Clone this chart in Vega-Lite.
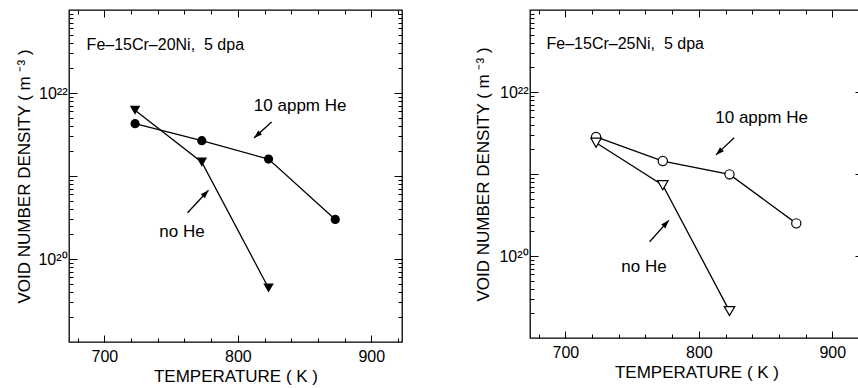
{
  "$schema": "https://vega.github.io/schema/vega-lite/v6.json",
  "background": "white",
  "padding": {"left": 15, "top": 8, "right": 0, "bottom": 0},
  "config": {
    "font": "Liberation Sans",
    "view": {"stroke": "black", "strokeWidth": 1.3},
    "axis": {
      "domain": false,
      "grid": false,
      "tickColor": "black",
      "tickWidth": 1,
      "labelColor": "black",
      "labelFontSize": 16,
      "labelOverlap": false,
      "labelFlush": false,
      "titleColor": "black",
      "titleFontSize": 17,
      "titleFontWeight": "normal"
    }
  },
  "spacing": 70,
  "hconcat": [
    {
      "width": 333,
      "height": 332,
      "layer": [
        {
          "data": {"values": [
            {"he": "10 appm He", "T": 723, "n": 4.27e21},
            {"he": "10 appm He", "T": 773, "n": 2.66e21},
            {"he": "10 appm He", "T": 823, "n": 1.6e21},
            {"he": "10 appm He", "T": 873, "n": 3.0e20},
            {"he": "no He", "T": 723, "n": 6.2e21},
            {"he": "no He", "T": 773, "n": 1.47e21},
            {"he": "no He", "T": 823, "n": 4.48e19}
          ]},
          "layer": [
            {
              "mark": {"type": "line", "color": "black", "strokeWidth": 1.3},
              "encoding": {
                "x": {"field": "T", "type": "quantitative", "scale": {"domain": [673.5, 923], "nice": false, "zero": false},
                  "axis": {"orient": "bottom", "title": "TEMPERATURE ( K )", "titlePadding": 4, "labelPadding": 6,
                    "offset": -7, "tickSize": 7, "values": [700, 800, 900]}},
                "y": {"field": "n", "type": "quantitative", "scale": {"type": "log", "domain": [1e19, 1e23], "nice": false},
                  "axis": {"orient": "left", "title": "VOID NUMBER DENSITY ( m ⁻³ )", "titlePadding": 4, "labelPadding": 2,
                    "offset": -8, "tickSize": 8, "values": [1e20, 1e21, 1e22],
                    "labelExpr": "abs(datum.value / 1e22 - 1) < 0.001 ? '10²²' : abs(datum.value / 1e20 - 1) < 0.001 ? '10²⁰' : ''"}},
                "detail": {"field": "he"}
              }
            },
            {
              "mark": {"type": "point", "filled": true, "color": "black", "opacity": 1},
              "encoding": {
                "x": {"field": "T", "type": "quantitative",
                  "axis": {"orient": "top", "title": null, "labels": false, "offset": -7, "tickSize": 7, "values": [700, 800, 900]}},
                "y": {"field": "n", "type": "quantitative",
                  "axis": {"orient": "right", "title": null, "labels": false, "offset": -8, "tickSize": 8, "values": [1e20, 1e21, 1e22]}},
                "shape": {"field": "he", "type": "nominal", "scale": {"domain": ["10 appm He", "no He"], "range": ["circle", "triangle-down"]}, "legend": null},
                "size": {"field": "he", "type": "nominal", "scale": {"domain": ["10 appm He", "no He"], "range": [85, 110]}, "legend": null}
              }
            }
          ]
        },
        {
          "data": {"values": [
            {"label": "10 appm He", "T": 825.3, "n": 4.48e21, "T2": 812.1, "n2": 2.87e21},
            {"label": "no He", "T": 762.3, "n": 3.61e20, "T2": 778, "n2": 6.73e20}
          ]},
          "layer": [
            {
              "mark": {"type": "rule", "color": "black", "strokeWidth": 1.3},
              "encoding": {
                "x": {"field": "T", "type": "quantitative",
                  "axis": {"orient": "bottom", "title": null, "labels": false, "offset": -4, "tickSize": 4,
                    "values": [680, 720, 740, 760, 780, 820, 840, 860, 880, 920]}},
                "y": {"field": "n", "type": "quantitative",
                  "axis": {"orient": "left", "title": null, "labels": false, "offset": -4, "tickSize": 4,
                    "values": [2e19, 3e19, 4e19, 5e19, 6e19, 7e19, 8e19, 9e19, 2e20, 3e20, 4e20, 5e20, 6e20, 7e20, 8e20, 9e20, 2e21, 3e21, 4e21, 5e21, 6e21, 7e21, 8e21, 9e21, 2e22, 3e22, 4e22, 5e22, 6e22, 7e22, 8e22, 9e22]}},
                "x2": {"field": "T2"},
                "y2": {"field": "n2"}
              }
            },
            {
              "mark": {"type": "point", "filled": true, "color": "black", "opacity": 1, "shape": "M0,0L0.9,2.6L-0.9,2.6Z", "size": 40},
              "encoding": {
                "x": {"field": "T2", "type": "quantitative",
                  "axis": {"orient": "top", "title": null, "labels": false, "offset": -4, "tickSize": 4,
                    "values": [680, 720, 740, 760, 780, 820, 840, 860, 880, 920]}},
                "y": {"field": "n2", "type": "quantitative",
                  "axis": {"orient": "right", "title": null, "labels": false, "offset": -4, "tickSize": 4,
                    "values": [2e19, 3e19, 4e19, 5e19, 6e19, 7e19, 8e19, 9e19, 2e20, 3e20, 4e20, 5e20, 6e20, 7e20, 8e20, 9e20, 2e21, 3e21, 4e21, 5e21, 6e21, 7e21, 8e21, 9e21, 2e22, 3e22, 4e22, 5e22, 6e22, 7e22, 8e22, 9e22]}},
                "angle": {"condition": {"test": "datum.label === 'no He'", "value": 43}, "value": 228}
              }
            }
          ]
        },
        {
          "data": {"values": [
            {"label": "Fe–15Cr–20Ni,\u00a0\u00a05 dpa", "T": 686.7, "n": 3.79e22},
            {"label": "10 appm He", "T": 812, "n": 6.97e21},
            {"label": "no He", "T": 741.2, "n": 2.11e20}
          ]},
          "mark": {"type": "text", "align": "left", "baseline": "middle", "color": "black"},
          "encoding": {
            "x": {"field": "T", "type": "quantitative", "axis": null},
            "y": {"field": "n", "type": "quantitative", "axis": null},
            "text": {"field": "label"},
            "size": {"condition": {"test": "indexof(datum.label, 'dpa') >= 0", "value": 16}, "value": 17}
          }
        }
      ],
      "resolve": {"axis": {"x": "independent", "y": "independent"}}
    },
    {
      "width": 333,
      "height": 328,
      "layer": [
        {
          "data": {"values": [
            {"he": "10 appm He", "T": 723, "n": 2.83e21},
            {"he": "10 appm He", "T": 773, "n": 1.44e21},
            {"he": "10 appm He", "T": 823, "n": 9.9e20},
            {"he": "10 appm He", "T": 873, "n": 2.5e20},
            {"he": "no He", "T": 723, "n": 2.41e21},
            {"he": "no He", "T": 773, "n": 7.3e20},
            {"he": "no He", "T": 823, "n": 2.13e19}
          ]},
          "layer": [
            {
              "mark": {"type": "line", "color": "black", "strokeWidth": 1.3},
              "encoding": {
                "x": {"field": "T", "type": "quantitative", "scale": {"domain": [673.5, 923], "nice": false, "zero": false},
                  "axis": {"orient": "bottom", "title": "TEMPERATURE ( K )", "titlePadding": 4, "labelPadding": 6,
                    "offset": -7, "tickSize": 7, "values": [700, 800, 900]}},
                "y": {"field": "n", "type": "quantitative", "scale": {"type": "log", "domain": [1e19, 1e23], "nice": false},
                  "axis": {"orient": "left", "title": "VOID NUMBER DENSITY ( m ⁻³ )", "titlePadding": 6, "labelPadding": 2,
                    "offset": -8, "tickSize": 8, "values": [1e20, 1e21, 1e22],
                    "labelExpr": "abs(datum.value / 1e22 - 1) < 0.001 ? '10²²' : abs(datum.value / 1e20 - 1) < 0.001 ? '10²⁰' : ''"}},
                "detail": {"field": "he"}
              }
            },
            {
              "mark": {"type": "point", "filled": true, "fill": "white", "stroke": "black", "strokeWidth": 1.2, "opacity": 1},
              "encoding": {
                "x": {"field": "T", "type": "quantitative",
                  "axis": {"orient": "top", "title": null, "labels": false, "offset": -7, "tickSize": 7, "values": [700, 800, 900]}},
                "y": {"field": "n", "type": "quantitative",
                  "axis": {"orient": "right", "title": null, "labels": false, "offset": -8, "tickSize": 8, "values": [1e20, 1e21, 1e22]}},
                "shape": {"field": "he", "type": "nominal", "scale": {"domain": ["10 appm He", "no He"], "range": ["circle", "triangle-down"]}, "legend": null},
                "size": {"field": "he", "type": "nominal", "scale": {"domain": ["10 appm He", "no He"], "range": [70, 90]}, "legend": null}
              }
            }
          ]
        },
        {
          "data": {"values": [
            {"label": "10 appm He", "T": 826.5, "n": 2.77e21, "T2": 812.8, "n2": 1.71e21},
            {"label": "no He", "T": 763.1, "n": 1.49e20, "T2": 777.5, "n2": 2.72e20}
          ]},
          "layer": [
            {
              "mark": {"type": "rule", "color": "black", "strokeWidth": 1.3},
              "encoding": {
                "x": {"field": "T", "type": "quantitative",
                  "axis": {"orient": "bottom", "title": null, "labels": false, "offset": -4, "tickSize": 4,
                    "values": [680, 720, 740, 760, 780, 820, 840, 860, 880, 920]}},
                "y": {"field": "n", "type": "quantitative",
                  "axis": {"orient": "left", "title": null, "labels": false, "offset": -4, "tickSize": 4,
                    "values": [2e19, 3e19, 4e19, 5e19, 6e19, 7e19, 8e19, 9e19, 2e20, 3e20, 4e20, 5e20, 6e20, 7e20, 8e20, 9e20, 2e21, 3e21, 4e21, 5e21, 6e21, 7e21, 8e21, 9e21, 2e22, 3e22, 4e22, 5e22, 6e22, 7e22, 8e22, 9e22]}},
                "x2": {"field": "T2"},
                "y2": {"field": "n2"}
              }
            },
            {
              "mark": {"type": "point", "filled": true, "color": "black", "opacity": 1, "shape": "M0,0L0.9,2.6L-0.9,2.6Z", "size": 40},
              "encoding": {
                "x": {"field": "T2", "type": "quantitative",
                  "axis": {"orient": "top", "title": null, "labels": false, "offset": -4, "tickSize": 4,
                    "values": [680, 720, 740, 760, 780, 820, 840, 860, 880, 920]}},
                "y": {"field": "n2", "type": "quantitative",
                  "axis": {"orient": "right", "title": null, "labels": false, "offset": -4, "tickSize": 4,
                    "values": [2e19, 3e19, 4e19, 5e19, 6e19, 7e19, 8e19, 9e19, 2e20, 3e20, 4e20, 5e20, 6e20, 7e20, 8e20, 9e20, 2e21, 3e21, 4e21, 5e21, 6e21, 7e21, 8e21, 9e21, 2e22, 3e22, 4e22, 5e22, 6e22, 7e22, 8e22, 9e22]}},
                "angle": {"condition": {"test": "datum.label === 'no He'", "value": 42}, "value": 227}
              }
            }
          ]
        },
        {
          "data": {"values": [
            {"label": "Fe–15Cr–25Ni,\u00a0\u00a05 dpa", "T": 685.9, "n": 3.85e22},
            {"label": "10 appm He", "T": 812.3, "n": 4.86e21},
            {"label": "no He", "T": 741.9, "n": 7.35e19}
          ]},
          "mark": {"type": "text", "align": "left", "baseline": "middle", "color": "black"},
          "encoding": {
            "x": {"field": "T", "type": "quantitative", "axis": null},
            "y": {"field": "n", "type": "quantitative", "axis": null},
            "text": {"field": "label"},
            "size": {"condition": {"test": "indexof(datum.label, 'dpa') >= 0", "value": 16}, "value": 17}
          }
        }
      ],
      "resolve": {"axis": {"x": "independent", "y": "independent"}}
    }
  ]
}
